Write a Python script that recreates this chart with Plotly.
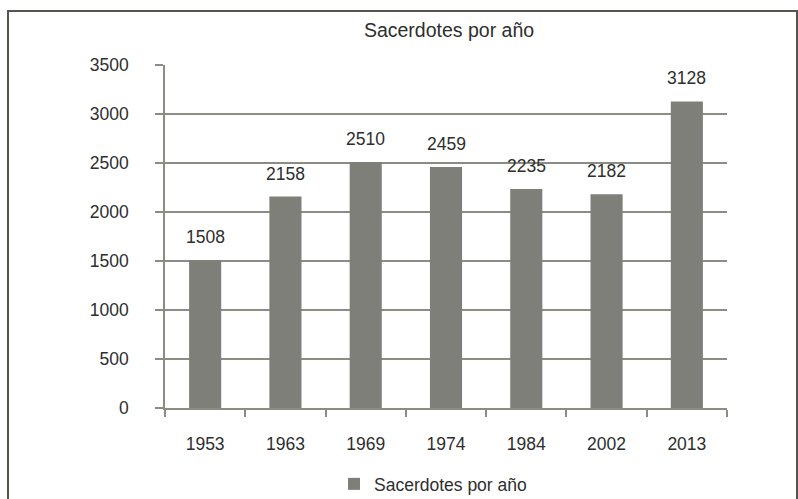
import plotly.graph_objects as go

# Ordained priests per year
years = ["1953", "1963", "1969", "1974", "1984", "2002", "2013"]
priests = [1508, 2158, 2510, 2459, 2235, 2182, 3128]
series_name = "Sacerdotes por año"
chart_title = "Sacerdotes por año"

W, H = 798, 499
L, R, T, B = 165, 71, 65, 91
plot_w = W - L - R
plot_h = H - T - B

bar_color = "#7f7f79"
grid_color = "#8c8c84"
text_color = "#2e2e2e"
font_family = "Liberation Sans, Arial, sans-serif"
fs = 17.5

fig = go.Figure()
fig.add_trace(go.Bar(
    x=years,
    y=priests,
    name=series_name,
    marker=dict(color=bar_color, line=dict(width=0)),
    showlegend=True,
))

# value labels above each bar (category axis -> use serial index)
for i, v in enumerate(priests):
    fig.add_annotation(
        x=i, y=v, text=str(v), showarrow=False,
        yanchor="bottom", yshift=11,
        font=dict(family=font_family, size=fs, color=text_color),
    )

# outer frame around the whole chart
def px_x(p):
    return (p - L) / plot_w

def px_y(p):
    return (H - B - p) / plot_h

fig.add_shape(
    type="rect", xref="paper", yref="paper",
    x0=px_x(8), x1=px_x(797), y0=px_y(530), y1=px_y(11),
    line=dict(color="#555550", width=2), fillcolor="rgba(0,0,0,0)",
    layer="below",
)

fig.update_layout(
    width=W, height=H,
    margin=dict(l=L, r=R, t=T, b=B, autoexpand=False),
    paper_bgcolor="white",
    plot_bgcolor="white",
    bargap=0.6,
    font=dict(family=font_family, size=fs, color=text_color),
    title=dict(
        text=chart_title, x=449 / W, xanchor="center",
        y=1 - 30 / H, yanchor="middle",
        font=dict(family=font_family, size=19.5, color=text_color),
    ),
    legend=dict(
        orientation="h",
        xref="container", x=433 / W, xanchor="center",
        yref="container", y=1 - 484 / H, yanchor="middle",
        font=dict(family=font_family, size=fs, color=text_color),
        itemsizing="constant",
    ),
    xaxis=dict(
        type="category",
        range=[-0.5, len(years) - 0.5],
        automargin=False,
        showline=True, linecolor=grid_color, linewidth=1.5,
        ticks="outside", ticklen=7, tickcolor=grid_color, tickwidth=1.5,
        tickson="boundaries",
        showgrid=False,
        ticklabelstandoff=19,
        tickfont=dict(family=font_family, size=fs, color=text_color),
    ),
    yaxis=dict(
        range=[0, 3500], dtick=500, tick0=0,
        automargin=False,
        showline=True, linecolor=grid_color, linewidth=1.5,
        ticks="outside", ticklen=8, tickcolor=grid_color, tickwidth=1.5,
        showgrid=True, gridcolor=grid_color, gridwidth=1.5,
        zeroline=False,
        ticklabelstandoff=23,
        tickfont=dict(family=font_family, size=fs, color=text_color),
    ),
)

fig.write_html("out.html")
